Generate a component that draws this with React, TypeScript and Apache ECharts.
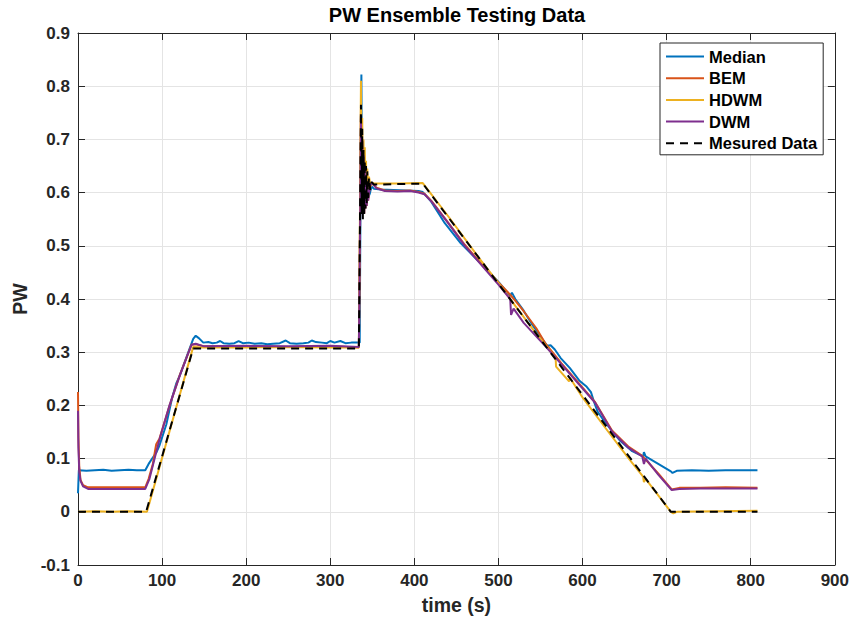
import React, { useEffect, useRef } from "react";
import * as echarts from "echarts";

const TITLE = "PW Ensemble Testing Data";
const X_NAME = "time (s)";
const Y_NAME = "PW";
const SERIES_NAMES = ["Median", "BEM", "HDWM", "DWM", "Mesured Data"];
const COLORS = ["#0072BD", "#D95319", "#EDB120", "#7E2F8E", "#000000"];

const medianData: number[][] = [
  [0, 0.035], [1, 0.078], [10, 0.077], [20, 0.078], [30, 0.079], [40, 0.077], [50, 0.078], [60, 0.079], [70, 0.078], [80, 0.078],
  [84, 0.09], [89, 0.102], [93, 0.111], [97, 0.125], [105, 0.164], [112, 0.215], [117, 0.242], [121, 0.256], [130, 0.295], [137, 0.325], [140, 0.331],
  [144, 0.326], [149, 0.318], [155, 0.319], [160, 0.317], [165, 0.318], [169, 0.321], [173, 0.317], [180, 0.316], [186, 0.317], [191, 0.321],
  [196, 0.317], [203, 0.318], [210, 0.316], [218, 0.317], [225, 0.315], [232, 0.316], [240, 0.317], [247, 0.322], [252, 0.317], [260, 0.316],
  [268, 0.317], [274, 0.318], [278, 0.322], [283, 0.319], [290, 0.318], [296, 0.317], [300, 0.321], [305, 0.318], [312, 0.321], [318, 0.317],
  [325, 0.318], [335, 0.318],
  [336, 0.6], [337, 0.822], [337.8, 0.6], [338.5, 0.7], [339.3, 0.58], [340, 0.65], [341, 0.58], [342, 0.62], [343, 0.585], [345, 0.59],
  [347, 0.598], [349, 0.612], [352, 0.607], [360, 0.606], [375, 0.605], [390, 0.604], [405, 0.603], [410, 0.601],
  [420, 0.583], [436, 0.543], [455, 0.505], [477, 0.47], [500, 0.432], [514, 0.406], [516, 0.412], [520, 0.4], [530, 0.378], [540, 0.352],
  [552, 0.325], [558, 0.312], [562, 0.313], [567, 0.305], [574, 0.289], [585, 0.27], [596, 0.247], [605, 0.235], [610, 0.225], [614, 0.205],
  [618, 0.188], [625, 0.172], [635, 0.152], [645, 0.133], [659, 0.114], [667, 0.108], [672, 0.104], [673, 0.112], [675, 0.104], [690, 0.09],
  [705, 0.076], [707, 0.073], [712, 0.077], [730, 0.078], [750, 0.077], [770, 0.078], [790, 0.078], [808, 0.078]
];

const bemData: number[][] = [
  [0, 0.225], [0.5, 0.14], [1.5, 0.085], [3, 0.06], [6, 0.05], [12, 0.046], [40, 0.046], [80, 0.046],
  [84, 0.062], [89, 0.09], [92, 0.118], [93, 0.127], [97, 0.138], [109, 0.2], [121, 0.257], [135, 0.314], [140, 0.315], [150, 0.311],
  [200, 0.311], [250, 0.31], [300, 0.311], [334, 0.309],
  [335.5, 0.55], [336.5, 0.76], [337.3, 0.57], [338, 0.7], [338.8, 0.56], [339.5, 0.67], [340.3, 0.56], [341, 0.65], [341.8, 0.57],
  [342.5, 0.63], [343.3, 0.575], [344, 0.61], [345, 0.585], [346, 0.6], [348, 0.615], [350, 0.618], [355, 0.609], [365, 0.604],
  [380, 0.603], [395, 0.604], [405, 0.601], [412, 0.598], [420, 0.585], [440, 0.544], [460, 0.502], [477, 0.471], [500, 0.431],
  [514, 0.408], [520, 0.397], [530, 0.377], [545, 0.345], [556, 0.316], [575, 0.279], [596, 0.241], [615, 0.206], [635, 0.153],
  [655, 0.122], [671, 0.105], [690, 0.072], [706, 0.042], [715, 0.045], [740, 0.045], [770, 0.046], [808, 0.045]
];

const hdwmData: number[][] = [
  [0, 0.0], [20, 0.001], [40, 0.0], [60, 0.001], [82, 0.0], [137, 0.31], [150, 0.309], [200, 0.309], [250, 0.31], [300, 0.309], [334, 0.309],
  [335.5, 0.6], [336.5, 0.81], [337.3, 0.58], [338, 0.74], [338.8, 0.56], [339.5, 0.7], [340.3, 0.57], [341, 0.685], [341.8, 0.58],
  [342.5, 0.66], [343.3, 0.59], [344, 0.645], [345, 0.6], [346, 0.63], [348, 0.612], [350, 0.617], [380, 0.617], [410, 0.618],
  [440, 0.556], [477, 0.477], [500, 0.43], [520, 0.387], [545, 0.335], [568, 0.289], [568.5, 0.273], [584, 0.245], [585, 0.252],
  [600, 0.215], [627, 0.158], [655, 0.1], [672, 0.066], [673, 0.056], [675, 0.062], [705, 0.0], [708, -0.003], [712, 0.0],
  [760, 0.001], [808, 0.002]
];

const dwmData: number[][] = [
  [0, 0.19], [0.5, 0.12], [1.5, 0.075], [3, 0.058], [6, 0.048], [12, 0.043], [40, 0.043], [80, 0.043],
  [85, 0.062], [89, 0.087], [97, 0.137], [109, 0.201], [121, 0.256], [135, 0.314], [140, 0.316], [150, 0.311], [200, 0.312],
  [250, 0.311], [300, 0.312], [334, 0.31],
  [335.5, 0.55], [336.5, 0.745], [337.3, 0.57], [338, 0.7], [338.8, 0.56], [339.5, 0.67], [340.3, 0.56], [341, 0.65], [341.8, 0.57],
  [342.5, 0.63], [343.3, 0.575], [344, 0.61], [345, 0.585], [346, 0.6], [348, 0.615], [350, 0.618], [355, 0.608], [365, 0.603],
  [380, 0.602], [395, 0.603], [405, 0.6], [412, 0.597], [420, 0.584], [440, 0.543], [460, 0.5], [477, 0.469], [500, 0.427],
  [514, 0.4], [515, 0.37], [518, 0.382], [530, 0.355], [556, 0.311], [575, 0.277], [596, 0.239], [615, 0.205], [635, 0.151],
  [655, 0.12], [671, 0.104], [673, 0.09], [675, 0.1], [690, 0.07], [706, 0.041], [715, 0.043], [740, 0.044], [770, 0.044], [808, 0.044]
];

const measuredData: number[][] = [
  [0, 0], [81, 0], [137, 0.307], [334, 0.307],
  [335.5, 0.58], [336.5, 0.765], [337.3, 0.56], [338, 0.72], [338.8, 0.55], [339.5, 0.68], [340.3, 0.56], [341, 0.66], [341.8, 0.57],
  [342.5, 0.65], [343.3, 0.58], [344, 0.64], [345, 0.59], [346, 0.628], [347.5, 0.605], [349, 0.62], [352, 0.615], [410, 0.617],
  [705, 0], [808, 0]
];

const SERIES_DATA = [medianData, bemData, hdwmData, dwmData, measuredData];

const X_MIN = 0, X_MAX = 900, X_INT = 100;
const Y_MIN = -0.1, Y_MAX = 0.9, Y_INT = 0.1;

const FONT = "'Liberation Sans', Arial, Helvetica, sans-serif";
const AX = "#262626";
const GRID = "#e4e4e4";

export default function App() {
  const ref = useRef<HTMLDivElement>(null);
  useEffect(() => {
    if (!ref.current) return;
    const chart = echarts.init(ref.current, null, { renderer: "svg" });
    const yFmt = (v: number) => {
      const r = Math.round(v * 10) / 10;
      return r === 0 ? "0" : String(r);
    };
    const baseX = {
      type: "value" as const,
      min: X_MIN, max: X_MAX, interval: X_INT,
      axisLine: { show: true, onZero: false, lineStyle: { color: AX, width: 1 } },
      axisTick: { show: true, inside: true, length: 7, lineStyle: { color: AX } },
    };
    const baseY = {
      type: "value" as const,
      min: Y_MIN, max: Y_MAX, interval: Y_INT,
      axisLine: { show: true, onZero: false, lineStyle: { color: AX, width: 1 } },
      axisTick: { show: true, inside: true, length: 7, lineStyle: { color: AX } },
    };
    chart.setOption({
      animation: false,
      backgroundColor: "#ffffff",
      graphic: [
        {
          type: "text",
          x: 457, y: 5,
          style: { text: TITLE, textAlign: "center", textVerticalAlign: "top", font: `bold 20px ${FONT}`, fill: "#000" },
        },
      ],
      grid: { left: 78, right: 16, top: 33, bottom: 55, containLabel: false },
      legend: {
        orient: "vertical",
        left: 660, top: 43,
        data: SERIES_NAMES,
        itemWidth: 38, itemHeight: 14, itemGap: 4.7,
        padding: [5, 6, 3, 5],
        borderColor: AX, borderWidth: 1, borderRadius: 0,
        backgroundColor: "#ffffff",
        itemStyle: { opacity: 0, color: "rgba(0,0,0,0)", borderWidth: 0 },
        textStyle: { fontFamily: FONT, fontWeight: "bold", fontSize: 16.5, color: "#000", lineHeight: 17 },
      },
      xAxis: [
        {
          ...baseX,
          position: "bottom",
          name: X_NAME, nameLocation: "middle", nameGap: 30,
          nameTextStyle: { fontFamily: FONT, fontWeight: "bold", fontSize: 19.5, color: AX },
          axisLabel: { show: true, margin: 7, fontFamily: FONT, fontWeight: "bold", fontSize: 17, color: AX },
          splitLine: { show: true, lineStyle: { color: GRID, width: 1 } },
        },
        {
          ...baseX,
          position: "top",
          axisLabel: { show: false },
          splitLine: { show: false },
        },
      ],
      yAxis: [
        {
          ...baseY,
          position: "left",
          name: Y_NAME, nameLocation: "middle", nameGap: 44, nameRotate: 90,
          nameTextStyle: { fontFamily: FONT, fontWeight: "bold", fontSize: 19.5, color: AX },
          axisLabel: { show: true, margin: 8, fontFamily: FONT, fontWeight: "bold", fontSize: 17, color: AX, formatter: yFmt },
          splitLine: { show: true, lineStyle: { color: GRID, width: 1 } },
        },
        {
          ...baseY,
          position: "right",
          axisLabel: { show: false },
          splitLine: { show: false },
        },
      ],
      series: SERIES_NAMES.map((name, i) => ({
        name,
        type: "line",
        xAxisIndex: 0,
        yAxisIndex: 0,
        data: SERIES_DATA[i],
        symbol: "none",
        showSymbol: false,
        color: COLORS[i],
        lineStyle: {
          color: COLORS[i],
          width: 2,
          type: i === 4 ? [8, 6] : "solid",
        },
      })),
    });
    return () => chart.dispose();
  }, []);
  return (
    <div
      ref={ref}
      style={{ position: "fixed", left: 0, top: 0, width: 852, height: 620, background: "#fff" }}
    />
  );
}
